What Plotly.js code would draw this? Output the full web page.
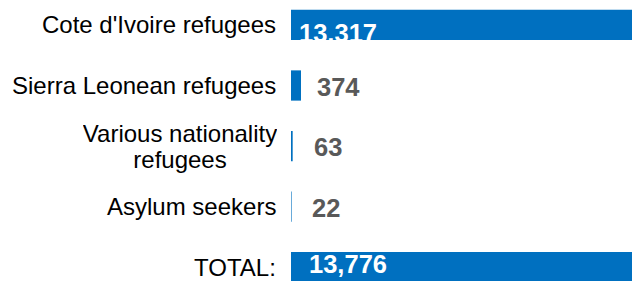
<!DOCTYPE html>
<html><head><meta charset="utf-8">
<script src="https://cdn.plot.ly/plotly-3.0.1.min.js"></script>
<style>html,body{margin:0;padding:0;background:#fff;}#chart{width:632px;height:281px;}</style>
</head><body><div id="chart"></div>
<script>
const categories = ["Cote d'Ivoire refugees", "Sierra Leonean refugees", "Various nationality refugees", "Asylum seekers", "TOTAL:"];
const labelLines = [["Cote d'Ivoire refugees"], ["Sierra Leonean refugees"], ["Various nationality", "refugees"], ["Asylum seekers"], ["TOTAL:"]];
const values = [13317, 374, 63, 22, 13776];
const valueLabels = ["13,317", "374", "63", "22", "13,776"];

const FONT = "Arial, 'Liberation Sans', sans-serif";
const labelSize = 24;
const valueSize = 25.5;
const blue = "#0070C0";
const xMax = 12764;
const plotW = 632 - 291;
const pxPerUnit = plotW / xMax;

const annotations = [];
labelLines.forEach((lines, i) => {
  if (lines.length === 1) {
    annotations.push({xref: "paper", x: 0, xanchor: "right", xshift: -13, yref: "y", y: i, yanchor: "middle",
      text: lines[0], showarrow: false, font: {family: FONT, size: labelSize, color: "#000"}});
  } else {
    lines.forEach((ln, k) => {
      annotations.push({xref: "paper", x: 0, xanchor: "right", xshift: -12, yref: "y", y: i,
        width: 194, align: "center",
        yanchor: "middle", yshift: (k === 0 ? 13 : -13),
        text: ln, showarrow: false, font: {family: FONT, size: labelSize, color: "#000"}});
    });
  }
});
// small value labels outside bars
const outsideShift = {1: 14, 2: 19, 3: 18};
[1, 2, 3].forEach(i => {
  annotations.push({xref: "x", x: values[i], xanchor: "left", xshift: outsideShift[i], yref: "y", y: i,
    yanchor: "middle", yshift: -1, text: "<b>" + valueLabels[i] + "</b>", showarrow: false,
    font: {family: FONT, size: valueSize, color: "#595959"}});
});

const insideIdx = [0, 4];
const insidePadPx = {0: 8, 4: 18};
const insideDownPx = {0: 11, 4: 0};
const traces = [
  {type: "bar", orientation: "h", y: categories, x: values, marker: {color: blue, line: {width: 0}},
   hoverinfo: "none"},
  {type: "scatter", mode: "text", yaxis: "y2",
   y: insideIdx.map(i => i + insideDownPx[i] / 60.5),
   x: insideIdx.map(i => insidePadPx[i] / pxPerUnit),
   text: insideIdx.map(i => "<b>" + valueLabels[i] + "</b>"),
   textposition: "middle right",
   textfont: {family: FONT, size: valueSize, color: "#ffffff"}, hoverinfo: "none", cliponaxis: true}
];

const yRange = [4.231, -0.413];
const layout = {
  width: 632, height: 281,
  margin: {l: 291, r: 0, t: 0, b: 0, pad: 0},
  paper_bgcolor: "#fff", plot_bgcolor: "#fff",
  showlegend: false, bargap: 0.5,
  xaxis: {range: [0, xMax], visible: false, fixedrange: true},
  yaxis: {type: "category", categoryorder: "array", categoryarray: categories,
    range: yRange, visible: false, fixedrange: true},
  yaxis2: {type: "linear", overlaying: "y", range: yRange, visible: false, fixedrange: true},
  shapes: [{type: "rect", layer: "above", xref: "paper", x0: 0, x1: 1, yref: "y", y0: 0.25, y1: 0.5,
    fillcolor: "#fff", line: {width: 0}}],
  annotations: annotations
};
Plotly.newPlot("chart", traces, layout, {displayModeBar: false, staticPlot: true});
</script></body></html>
